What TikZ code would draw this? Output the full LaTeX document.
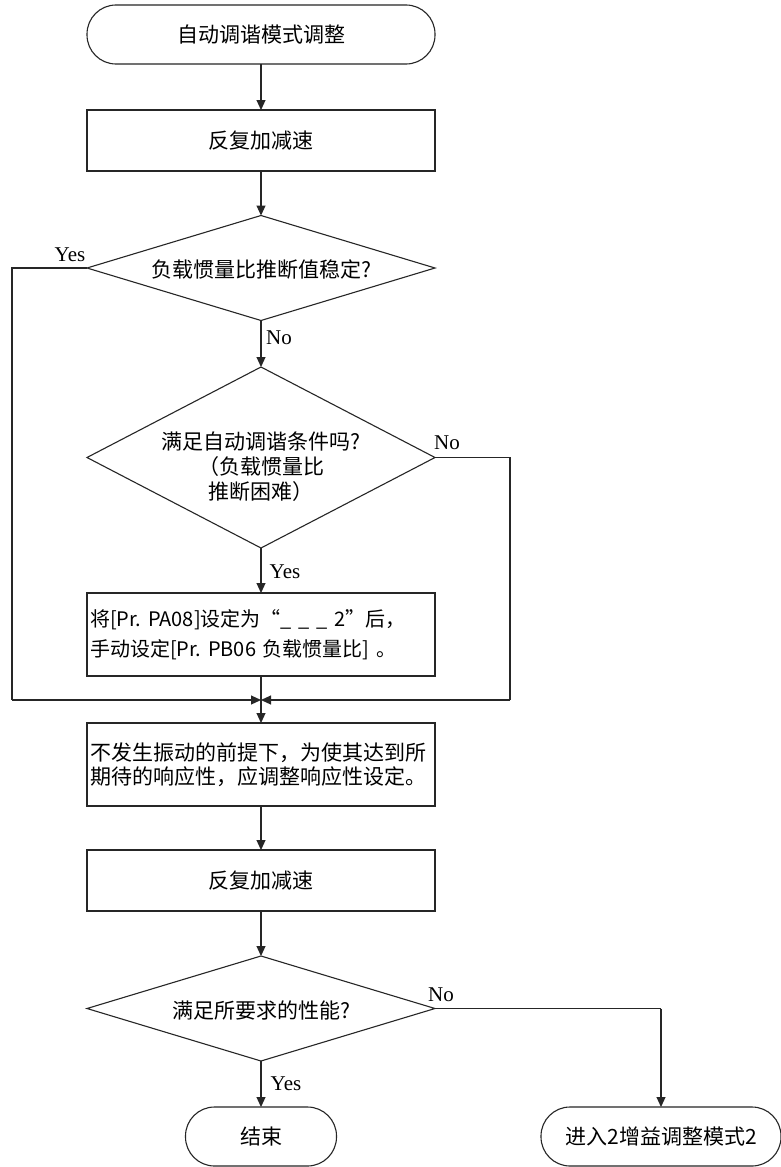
\documentclass[tikz,border=0pt]{standalone}
\usepackage{fontspec}
\setmainfont{Noto Sans CJK SC}
\newfontfamily\lbl{Liberation Serif}
\usetikzlibrary{shapes.geometric,arrows.meta}
\begin{document}
\begin{tikzpicture}[x=1pt,y=-1pt,
  font=\fontsize{21}{25}\selectfont,
  every node/.style={inner sep=0pt, outer sep=0pt},
  line/.style={draw=black!85, line width=1.1pt},
  arr/.style={line, -{Triangle[length=10pt,width=9pt]}},
  term/.style={draw=black!85, line width=1.1pt, rounded corners=29pt, minimum height=59pt},
  box/.style={draw=black!85, line width=1.1pt, minimum width=348pt},
  dia/.style={draw=black!85, line width=1.1pt, diamond, minimum width=348pt},
  lab/.style={font=\lbl\fontsize{21}{24}\selectfont}
]
\useasboundingbox (0,0) rectangle (781,1167);
\fill[white] (0,0) rectangle (781,1167);

\node[term, minimum width=348pt] (start) at (261,34.5) {自动调谐模式调整};
\node[box, minimum height=61pt] (b1) at (261,140.5) {反复加减速};
\node[dia, minimum height=105pt] (d1) at (261,268) {};
\node (d1t) at (261,269) {负载惯量比推断值稳定?};
\node[dia, minimum height=181pt] (d2) at (261,457.5) {};
\node[align=center, font=\fontsize{21}{25}\selectfont] (d2t) at (261,467) {满足自动调谐条件吗?\\（负载惯量比\\推断困难）};
\node[box, minimum height=83pt, text width=342pt, align=left, inner xsep=3pt,
      font=\fontsize{20}{30}\selectfont] (b3) at (261,634.5)
  {将[Pr.\ PA08]设定为“\_ \_ \_ 2”后，\\手动设定[Pr.\ PB06 负载惯量比] 。};
\coordinate (m) at (261,700);
\coordinate (lc1) at (12,268);
\coordinate (lc2) at (12,700);
\coordinate (rc1) at (510,457.5);
\coordinate (rc2) at (510,700);
\node[box, minimum height=83pt, text width=342pt, align=left, inner xsep=3pt,
      font=\fontsize{21}{24}\selectfont] (b4) at (261,764.5)
  {不发生振动的前提下，为使其达到所\\期待的响应性，应调整响应性设定。};
\node[box, minimum height=61pt] (b5) at (261,880.5) {反复加减速};
\node[dia, minimum height=105pt] (d3) at (261,1008.5) {};
\node (d3t) at (261,1010) {满足所要求的性能?};
\node[term, minimum width=151pt] (end) at (261,1136.5) {结束};
\node[term, minimum width=240pt] (next) at (661,1136.5) {进入2增益调整模式2};
\coordinate (nc) at (661,1008.5);

\draw[arr] (start) -- (b1);
\draw[arr] (b1) -- (d1);
\draw[arr] (d1) -- (d2);
\draw[arr] (d2) -- (b3);
\draw[line] (d1.west) -- (lc1) -- (lc2);
\draw[arr] (lc2) -- (m);
\draw[line] (d2.east) -- (rc1) -- (rc2);
\draw[arr] (rc2) -- (m);
\draw[line] (b3.south) -- (m);
\draw[arr] (m) -- (b4);
\draw[arr] (b4) -- (b5);
\draw[arr] (b5) -- (d3);
\draw[arr] (d3) -- (end);
\draw[line] (d3.east) -- (nc);
\draw[arr] (nc) -- (next);

\node[lab] (y1) at (70,255) {Yes};
\node[lab] (n1) at (279,338) {No};
\node[lab] (n2) at (447,443) {No};
\node[lab] (y2) at (285,572) {Yes};
\node[lab] (n3) at (441,995) {No};
\node[lab] (y3) at (286,1084) {Yes};
\end{tikzpicture}
\end{document}
